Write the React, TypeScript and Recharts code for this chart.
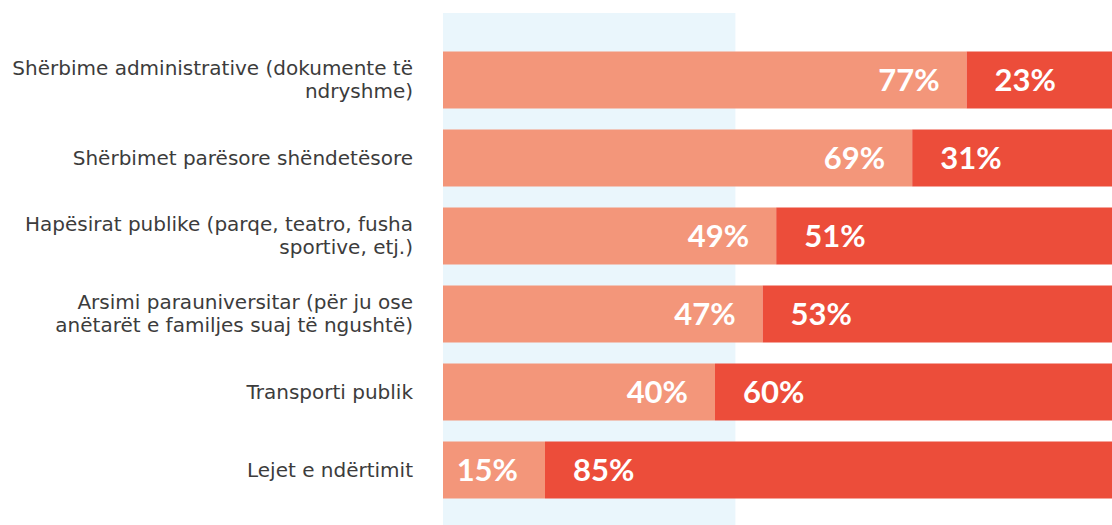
import { Bar, BarChart, LabelList, ReferenceArea, XAxis, YAxis } from "recharts";

const categories = [
  "Shërbime administrative (dokumente të\nndryshme)",
  "Shërbimet parësore shëndetësore",
  "Hapësirat publike (parqe, teatro, fusha\nsportive, etj.)",
  "Arsimi parauniversitar (për ju ose\nanëtarët e familjes suaj të ngushtë)",
  "Transporti publik",
  "Lejet e ndërtimit",
];
const firstShare = [77, 69, 49, 47, 40, 15];
const secondShare = [23, 31, 51, 53, 60, 85];
const highlightTo = 43;

const data = categories.map((name, i) => ({ name, first: firstShare[i], second: secondShare[i] }));

const PAD_TOP = 27.5;
const PAD_BOTTOM = 31.5;

function CategoryTick({ x, y, payload }: any) {
  const lines = String(payload.value).split("\n");
  const lineHeight = 23.5;
  const start = y - ((lines.length - 1) * lineHeight) / 2;
  return (
    <text
      x={x}
      y={start}
      textAnchor="end"
      fill="#3c3c3c"
      fontSize={20}
      fontFamily="'DejaVu Sans', sans-serif"
    >
      {lines.map((line, i) => (
        <tspan key={i} x={x} y={start + i * lineHeight} dy="0.35em">
          {line}
        </tspan>
      ))}
    </text>
  );
}

const labelStyle = {
  fill: "#ffffff",
  fontSize: 31,
  fontWeight: 700,
  fontFamily: "Lato, sans-serif",
};

export default function App() {
  return (
    <div
      style={{
        position: "absolute",
        left: 0,
        top: 0,
        width: 1112,
        height: 525,
        overflow: "hidden",
        background: "#fff",
      }}
    >
      <BarChart
        width={1123}
        height={540}
        data={data}
        layout="vertical"
        barSize={57}
        margin={{ top: 13, right: 0, bottom: 0, left: 0 }}
      >
        <XAxis type="number" domain={[0, 100]} hide />
        <YAxis
          type="category"
          dataKey="name"
          width={443}
          axisLine={false}
          tickLine={false}
          tickMargin={24}
          padding={{ top: PAD_TOP, bottom: PAD_BOTTOM }}
          tick={<CategoryTick />}
          interval={0}
        />
        <ReferenceArea
          x1={0}
          x2={highlightTo}
          ifOverflow="visible"
          shape={(p: any) => (
            <rect
              x={p.x}
              y={p.y - PAD_TOP}
              width={p.width}
              height={p.height + PAD_TOP + PAD_BOTTOM}
              fill="#eaf6fc"
            />
          )}
        />
        <Bar dataKey="first" stackId="a" fill="#f3967a" isAnimationActive={false}>
          <LabelList
            dataKey="first"
            position="insideRight"
            offset={27}
            formatter={(v: any) => `${v}%`}
            style={labelStyle}
          />
        </Bar>
        <Bar dataKey="second" stackId="a" fill="#ec4d3a" isAnimationActive={false}>
          <LabelList
            dataKey="second"
            position="insideLeft"
            offset={28}
            formatter={(v: any) => `${v}%`}
            style={labelStyle}
          />
        </Bar>
      </BarChart>
    </div>
  );
}
